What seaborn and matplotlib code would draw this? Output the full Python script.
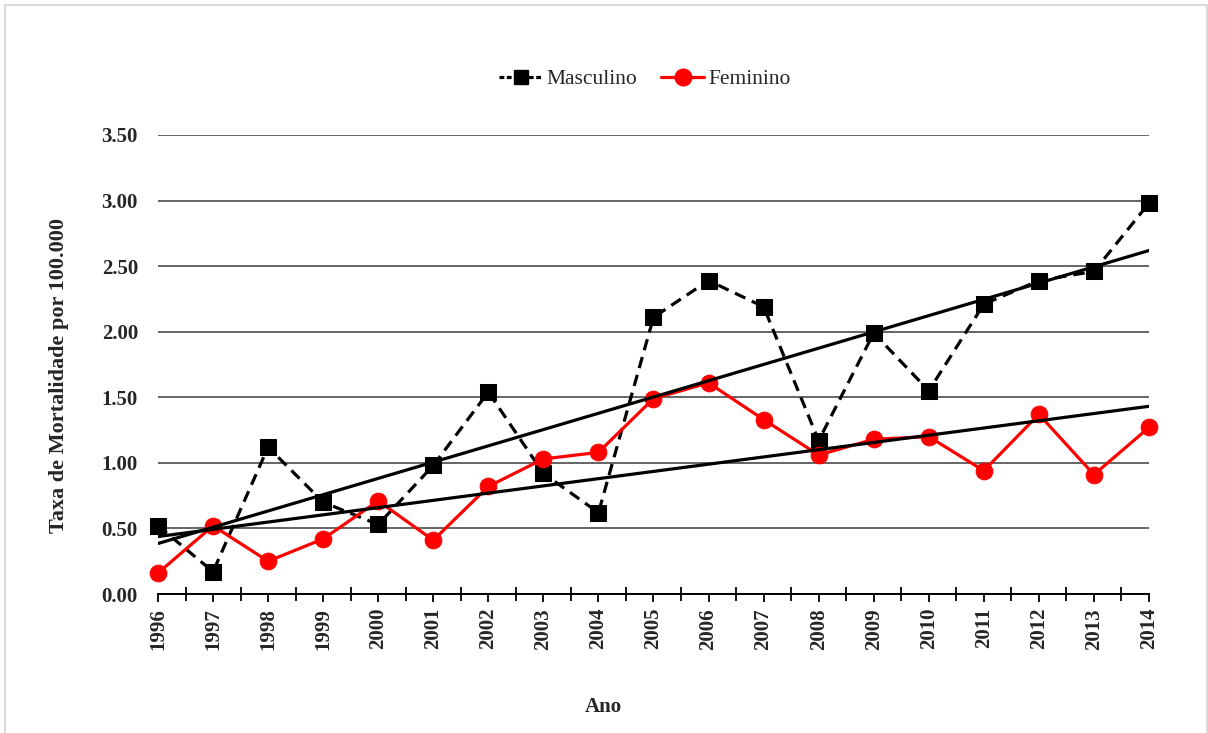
import numpy as np
import pandas as pd
import matplotlib
matplotlib.use("Agg")
import matplotlib.pyplot as plt
from matplotlib.patches import Rectangle
from matplotlib.lines import Line2D
import seaborn as sns

# Mortality rate per 100,000 by sex, 1996-2014
anos = [1996, 1997, 1998, 1999, 2000, 2001, 2002, 2003, 2004, 2005,
        2006, 2007, 2008, 2009, 2010, 2011, 2012, 2013, 2014]
masculino = [0.52, 0.17, 1.12, 0.70, 0.53, 0.98, 1.54, 0.92, 0.62, 2.11,
             2.39, 2.19, 1.17, 1.99, 1.55, 2.21, 2.39, 2.46, 2.98]
feminino = [0.16, 0.52, 0.25, 0.42, 0.71, 0.41, 0.82, 1.03, 1.08, 1.49,
            1.61, 1.33, 1.06, 1.18, 1.20, 0.94, 1.37, 0.91, 1.27]
y_ticks = [0.0, 0.5, 1.0, 1.5, 2.0, 2.5, 3.0, 3.5]

df = pd.DataFrame({"Ano": anos, "Masculino": masculino, "Feminino": feminino})

sns.set_theme(style="white")
plt.rcParams["font.family"] = ["Liberation Serif", "DejaVu Serif"]

fig = plt.figure(figsize=(12.08, 7.33), dpi=100)
ax = fig.add_axes([158 / 1208, 1 - 594 / 733, (1149 - 158) / 1208, (594 - 135) / 733])

# horizontal gridlines
ax.set_ylim(0, 3.5)
ax.set_xlim(anos[0], anos[-1])
ax.set_yticks(y_ticks)
ax.yaxis.grid(True, color="#595959", linewidth=1.3, zorder=0)
ax.set_axisbelow(True)

# series
sns.lineplot(data=df, x="Ano", y="Masculino", ax=ax, color="black",
             linewidth=2.3, marker="s", markersize=11, markeredgecolor="black",
             markerfacecolor="black", zorder=3)
ax.lines[-1].set_dashes((3.6, 2.2))
ax.lines[-1].set_clip_on(False)
sns.lineplot(data=df, x="Ano", y="Feminino", ax=ax, color="#ff0000",
             linewidth=2.3, marker="o", markersize=12, markeredgecolor="#ff0000",
             markerfacecolor="#ff0000", zorder=3)
ax.lines[-1].set_clip_on(False)

# linear trends
for col in ["Masculino", "Feminino"]:
    sns.regplot(data=df, x="Ano", y=col, ax=ax, scatter=False, ci=None,
                truncate=True, color="black",
                line_kws={"linewidth": 2.3, "zorder": 4})

ax.set_xlim(anos[0], anos[-1])
ax.set_ylim(0, 3.5)

# spines
for s in ["top", "right", "left"]:
    ax.spines[s].set_visible(False)
ax.spines["bottom"].set_color("black")
ax.spines["bottom"].set_linewidth(1.4)

# ticks
ax.set_xticks(anos)
ax.set_xticks([a + 0.5 for a in anos[:-1]], minor=True)
ax.set_xticklabels([str(a) for a in anos], rotation=90, fontweight="bold",
                   fontsize=15)
ax.tick_params(axis="x", which="major", direction="out", length=6, width=1.3,
               color="black", pad=4, bottom=True)
ax.tick_params(axis="x", which="minor", direction="inout", length=10, width=1.3,
               color="black", bottom=True)
ax.set_yticklabels([f"{v:.2f}" for v in y_ticks], fontweight="bold", fontsize=15)
ax.tick_params(axis="y", length=0, pad=14.4)

ax.set_xlabel("Ano", fontweight="bold", fontsize=15, labelpad=0)
ax.xaxis.set_label_coords(0.449, -0.224)
ax.set_ylabel("Taxa de Mortalidade por 100.000", fontweight="bold", fontsize=16)
ax.yaxis.set_label_coords(-0.0898, 0.477)

# legend
handles = [
    Line2D([], [], color="black", linewidth=2.3, dashes=(1.5, 0.8), marker="s",
           markersize=10, markerfacecolor="black", markeredgecolor="black"),
    Line2D([], [], color="#ff0000", linewidth=2.3, marker="o", markersize=12,
           markerfacecolor="#ff0000", markeredgecolor="#ff0000"),
]
fig.legend(handles, ["Masculino", "Feminino"], loc="center",
           bbox_to_anchor=(0.534, 0.892), ncol=2, frameon=False,
           fontsize=15.5, handlelength=2.0, handletextpad=0.2, columnspacing=1.1)

# outer frame
fig.patches.append(Rectangle((5 / 1208, -0.01), (1206.5 - 5) / 1208, 1 - 4.5 / 733 + 0.01,
                             transform=fig.transFigure, fill=False,
                             edgecolor="#d9d9d9", linewidth=1.5))

fig.savefig("out.png", dpi=100, facecolor="white")
